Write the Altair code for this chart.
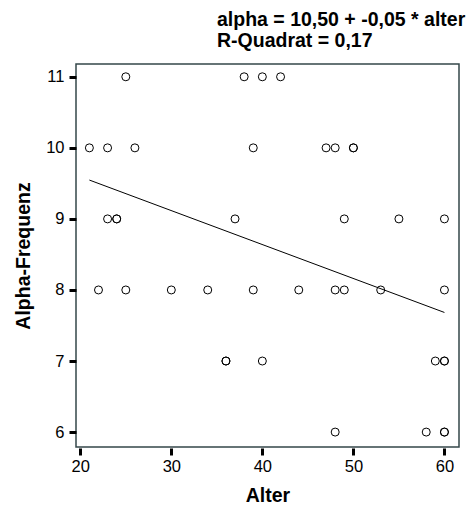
import altair as alt
import pandas as pd

# Age (Alter) and alpha frequency per subject
alter = [25, 38, 40, 42,
         21, 23, 26, 39, 47, 48, 50, 50,
         23, 24, 24, 37, 49, 55, 60,
         22, 25, 30, 34, 39, 44, 48, 49, 53, 60,
         36, 36, 40, 59, 60, 60,
         48, 58, 60, 60]
alpha = [11, 11, 11, 11,
         10, 10, 10, 10, 10, 10, 10, 10,
         9, 9, 9, 9, 9, 9, 9,
         8, 8, 8, 8, 8, 8, 8, 8, 8, 8,
         7, 7, 7, 7, 7, 7,
         6, 6, 6, 6]

x_ticks = [20, 30, 40, 50, 60]
y_ticks = [6, 7, 8, 9, 10, 11]
title_lines = ["alpha = 10,50 + -0,05 * alter", "R-Quadrat = 0,17"]

df = pd.DataFrame({"alter": alter, "alpha": alpha})

FONT = "Liberation Sans"

x_enc = alt.X(
    "alter:Q",
    title="Alter",
    scale=alt.Scale(domain=[19.53, 61.6], nice=False, zero=False),
    axis=alt.Axis(values=x_ticks, format="d"),
)
y_enc = alt.Y(
    "alpha:Q",
    title="Alpha-Frequenz",
    scale=alt.Scale(domain=[5.79, 11.18], nice=False, zero=False),
    axis=alt.Axis(values=y_ticks, format="d"),
)

points = alt.Chart(df).mark_point(
    shape="circle", filled=False, size=64, stroke="black", strokeWidth=1, opacity=1
).encode(x=x_enc, y=y_enc)

fit = alt.Chart(df).transform_regression("alter", "alpha").mark_line(
    color="black", strokeWidth=1
).encode(x=x_enc, y=y_enc)

chart = (
    alt.layer(fit, points)
    .properties(
        width=383,
        height=383,
        autosize=alt.AutoSizeParams(type="none"),
        padding={"left": 76, "top": 64, "right": 14, "bottom": 60},
        title=alt.TitleParams(
            text=title_lines,
            anchor="start",
            frame="group",
            dx=141,
            offset=12,
            font=FONT,
            fontSize=19.5,
            fontWeight="bold",
            lineHeight=21.6,
            color="black",
        ),
    )
    .configure_view(stroke="#34474a", strokeWidth=1.5)
    .configure_axis(
        domain=False,
        grid=False,
        ticks=True,
        tickColor="black",
        tickWidth=3,
        tickSize=7,
        labelFont=FONT,
        labelFontSize=16.5,
        labelColor="black",
        titleFont=FONT,
        titleFontSize=19.5,
        titleFontWeight="bold",
        titleColor="black",
    )
    .configure_axisX(labelPadding=3, titlePadding=12, offset=1)
    .configure_axisY(labelPadding=5, titlePadding=12)
)

chart.save("out.html", embed_options={"renderer": "svg", "actions": False})
